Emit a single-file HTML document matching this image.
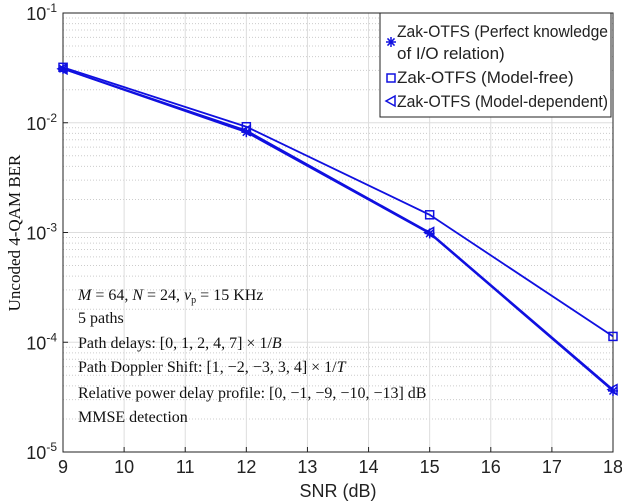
<!DOCTYPE html>
<html><head><meta charset="utf-8"><style>
body{margin:0;background:#fff;width:622px;height:502px;overflow:hidden}
svg{display:block}
.t{font-family:"Liberation Sans",sans-serif;font-size:16px;fill:#222}
.s{font-family:"Liberation Serif",serif;font-size:15px;fill:#111}
</style></head><body>
<svg id="chart" width="622" height="502"></svg>
<script>
const snr=[9,12,15,18];
const berPerfect=[0.031,0.0082,0.00098,0.000036];
const berModelFree=[0.032,0.0092,0.00145,0.000113];
const berModelDep=[0.031,0.0085,0.001,0.000037];
const xTicks=[9,10,11,12,13,14,15,16,17,18];
const yDecades=[-5,-4,-3,-2,-1];
const L=63,R=613,T=13,B=452;
const X=v=>L+(v-9)/(18-9)*(R-L);
const Y=v=>T+(-1-Math.log10(v))/4*(B-T);
const svg=document.getElementById('chart');
const NS='http://www.w3.org/2000/svg';
function mk(tag,attrs,parent){const e=document.createElementNS(NS,tag);for(const k in attrs)e.setAttribute(k,attrs[k]);(parent||svg).appendChild(e);return e;}
for(let d=-5;d<-1;d++){for(let m=2;m<10;m++){const y=Y(m*Math.pow(10,d));const g=mk('line',{x1:L,x2:R,y1:y,y2:y,stroke:'#ccc','stroke-dasharray':'1,2','stroke-width':1});}}
yDecades.forEach(d=>{const y=Y(Math.pow(10,d));const g=mk('line',{x1:L,x2:R,y1:y,y2:y,stroke:'#ddd'});
const t=mk('text',{x:L-6,y:y+7,'text-anchor':'end',class:'t'});
t.style.fontSize='18px';
t.innerHTML='10<tspan dy="-8" font-size="12">'+d+'</tspan>';
const tk=mk('line',{x1:L,x2:L+5,y1:y,y2:y,stroke:'#222'});});
xTicks.forEach(v=>{const x=X(v);const g=mk('line',{x1:x,x2:x,y1:T,y2:B,stroke:'#ddd'});
const tk=mk('line',{x1:x,x2:x,y1:B,y2:B-5,stroke:'#222'});
const t=mk('text',{x:x,y:B+21,'text-anchor':'middle',class:'t'});t.style.fontSize='18px';t.textContent=v;});
const ax=mk('rect',{x:L,y:T,width:R-L,height:B-T,fill:'none',stroke:'#222'});
function marker(type,x,y,g){
 if(type==='star'){for(let a=0;a<4;a++){const r=a*Math.PI/4;mk('line',{x1:x-5*Math.cos(r),y1:y-5*Math.sin(r),x2:x+5*Math.cos(r),y2:y+5*Math.sin(r),stroke:'#1010e0','stroke-width':1.5},g);}}
 else if(type==='square')mk('rect',{x:x-4,y:y-4,width:8,height:8,fill:'none',stroke:'#1010e0','stroke-width':1.5},g);
 else mk('polygon',{points:`${x-5},${y} ${x+4},${y-5} ${x+4},${y+5}`,fill:'none',stroke:'#1010e0','stroke-width':1.5},g);
}
function series(data,type,name){const g=mk('g',{});
 mk('polyline',{points:data.map((v,i)=>X(snr[i])+','+Y(v)).join(' '),fill:'none',stroke:'#1010e0','stroke-width':1.8},g);
 data.forEach((v,i)=>marker(type,X(snr[i]),Y(v),g));}
series(berModelFree,'square','series-model-free');
series(berModelDep,'tri','series-model-dependent');
series(berPerfect,'star','series-perfect-knowledge');
const lg=mk('g',{});
mk('rect',{x:380,y:13,width:231,height:104,fill:'#fff',stroke:'#222'},lg);
marker('star',391,42,lg);marker('square',391,78,lg);marker('tri',391,101,lg);
[['Zak-OTFS (Perfect knowledge',37,211],['of I/O relation)',59,0],['Zak-OTFS (Model-free)',83,0],['Zak-OTFS (Model-dependent)',107,211]].forEach(([s,y,w])=>{const a={x:397,y:y,class:'t'};if(w){a.textLength=w;a.lengthAdjust='spacingAndGlyphs';}const t=mk('text',a,lg);t.style.fontSize='17px';t.textContent=s;});
const ann=[['<tspan font-style="italic">M</tspan> = 64, <tspan font-style="italic">N</tspan> = 24, <tspan font-style="italic">ν</tspan><tspan font-size="10" dy="3">p</tspan><tspan dy="-3"> = 15 KHz</tspan>',300],['5 paths',323],['Path delays: [0, 1, 2, 4, 7] × 1/<tspan font-style="italic">B</tspan>',348],['Path Doppler Shift: [1, −2, −3, 3, 4] × 1/<tspan font-style="italic">T</tspan>',372],['Relative power delay profile: [0, −1, −9, −10, −13] dB',398],['MMSE detection',422]];
ann.forEach(([h,y])=>{const t=mk('text',{x:78,y:y,class:'s'});t.style.fontSize='16px';t.innerHTML=h;});
const xl=mk('text',{x:338,y:497,'text-anchor':'middle',class:'t'});xl.style.fontSize='18px';xl.textContent='SNR (dB)';
const yl=mk('text',{x:0,y:0,'text-anchor':'middle',class:'s',transform:'translate(20,233) rotate(-90)'});yl.style.fontSize='17px';yl.textContent='Uncoded 4-QAM BER';
</script></body></html>
